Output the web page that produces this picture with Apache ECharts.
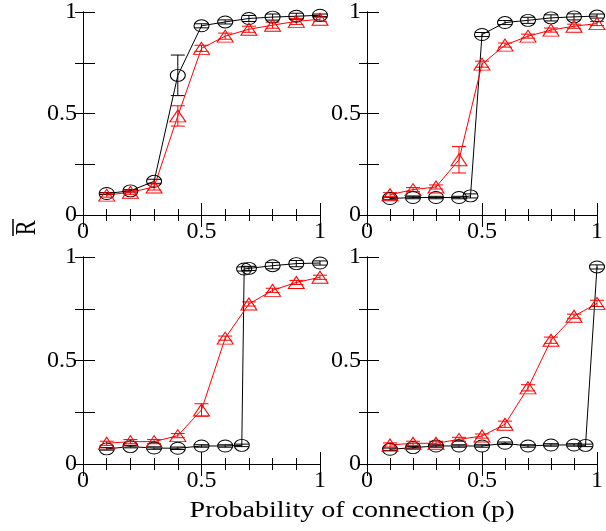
<!DOCTYPE html>
<html><head><meta charset="utf-8">
<script src="https://cdn.jsdelivr.net/npm/echarts@6/dist/echarts.min.js"></script>
<style>html,body{margin:0;padding:0;background:#fff}#c{width:606px;height:531px}</style>
</head><body><div id="c"></div>
<script>
// ---- data ----
const xTickLabels = ['0', '0.5', '1'];
const yTickLabels = ['0', '0.5', '1'];
const xName = 'Probability of connection (p)';
const yName = 'R';

const p1BlackX = [0.1,0.2,0.3,0.4,0.5,0.6,0.7,0.8,0.9,1.0];
const p1BlackY = [0.106,0.119,0.166,0.688,0.932,0.951,0.968,0.975,0.979,0.984];
const p1BlackErr = [0.005,0.006,0.01,0.1,0.01,0.01,0.015,0.015,0.015,0.006];
const p1RedX = [0.1,0.2,0.3,0.4,0.5,0.6,0.7,0.8,0.9,1.0];
const p1RedY = [0.098,0.112,0.138,0.488,0.821,0.881,0.915,0.935,0.954,0.964];
const p1RedErr = [0.01,0.01,0.015,0.05,0.015,0.015,0.015,0.015,0.015,0.01];

const p2BlackX = [0.1,0.2,0.3,0.4,0.45,0.5,0.6,0.7,0.8,0.9,1.0];
const p2BlackY = [0.081,0.086,0.086,0.086,0.094,0.889,0.948,0.959,0.971,0.976,0.98];
const p2BlackErr = [0.006,0.006,0.006,0.006,0.01,0.01,0.01,0.015,0.015,0.015,0.01];
const p2RedX = [0.1,0.2,0.3,0.4,0.5,0.6,0.7,0.8,0.9,1.0];
const p2RedY = [0.10,0.125,0.138,0.272,0.743,0.837,0.881,0.911,0.93,0.943];
const p2RedErr = [0.01,0.01,0.01,0.065,0.015,0.01,0.01,0.01,0.01,0.01];

const p3BlackX = [0.1,0.2,0.3,0.4,0.5,0.6,0.67,0.68,0.7,0.8,0.9,1.0];
const p3BlackY = [0.073,0.084,0.077,0.076,0.087,0.087,0.09,0.942,0.945,0.958,0.968,0.971];
const p3BlackErr = [0.006,0.006,0.006,0.006,0.006,0.006,0.006,0.01,0.01,0.015,0.015,0.01];
const p3RedX = [0.1,0.2,0.3,0.4,0.5,0.6,0.7,0.8,0.9,1.0];
const p3RedY = [0.1,0.108,0.108,0.137,0.261,0.608,0.773,0.839,0.877,0.902];
const p3RedErr = [0.01,0.01,0.01,0.01,0.03,0.01,0.01,0.01,0.01,0.01];

const p4BlackX = [0.1,0.2,0.3,0.4,0.5,0.6,0.7,0.8,0.9,0.95,1.0];
const p4BlackY = [0.071,0.079,0.087,0.087,0.087,0.1,0.087,0.092,0.092,0.09,0.952];
const p4BlackErr = [0.006,0.006,0.006,0.006,0.006,0.006,0.006,0.006,0.006,0.006,0.01];
const p4RedX = [0.1,0.2,0.3,0.4,0.5,0.6,0.7,0.8,0.9,1.0];
const p4RedY = [0.092,0.1,0.1,0.119,0.135,0.192,0.368,0.598,0.714,0.776];
const p4RedErr = [0.01,0.01,0.01,0.01,0.01,0.015,0.015,0.015,0.01,0.015];

const panels = [
  {bx:p1BlackX, by:p1BlackY, be:p1BlackErr, rx:p1RedX, ry:p1RedY, re:p1RedErr},
  {bx:p2BlackX, by:p2BlackY, be:p2BlackErr, rx:p2RedX, ry:p2RedY, re:p2RedErr},
  {bx:p3BlackX, by:p3BlackY, be:p3BlackErr, rx:p3RedX, ry:p3RedY, re:p3RedErr},
  {bx:p4BlackX, by:p4BlackY, be:p4BlackErr, rx:p4RedX, ry:p4RedY, re:p4RedErr}
];

// ---- layout ----
const FONT = 'Liberation Serif';
const grids = [
  {left:83, top:10, width:237, height:205},
  {left:367, top:10, width:236, height:205},
  {left:83, top:257, width:237, height:207},
  {left:367, top:257, width:236, height:207}
];

const chart = echarts.init(document.getElementById('c'), null, {renderer:'canvas'});
const xAxes = [], yAxes = [], series = [];
const lbl = (arr) => (v) => { const s = String(+v.toFixed(2)); return arr.indexOf(s) >= 0 ? s : ''; };
const labelRich = {fontFamily:FONT, fontSize:24, color:'#000'};

grids.forEach((g, i) => {
  const base = {type:'value', min:0, max:1, gridIndex:i, splitLine:{show:false},
    axisLine:{show:true, lineStyle:{color:'#000', width:1}}};
  xAxes.push(Object.assign({}, base, {position:'bottom', interval:0.5,
    axisTick:{show:true, inside:true, length:12, lineStyle:{color:'#000'}},
    minorTick:{show:true, splitNumber:5, length:6, lineStyle:{color:'#000'}},
    axisLabel:Object.assign({show:true, formatter:lbl(xTickLabels), margin:5}, labelRich)}));
  xAxes.push(Object.assign({}, base, {position:'top', interval:0.5,
    axisTick:{show:true, inside:true, length:12, lineStyle:{color:'#000'}},
    minorTick:{show:true, splitNumber:5, length:6, lineStyle:{color:'#000'}},
    axisLabel:{show:false}}));
  yAxes.push(Object.assign({}, base, {position:'left', interval:0.25,
    axisTick:{show:true, inside:true, length:12, lineStyle:{color:'#000'}},
    axisLabel:Object.assign({show:true, formatter:lbl(yTickLabels), margin:6}, labelRich)}));
  yAxes.push(Object.assign({}, base, {position:'right', interval:0.25,
    axisTick:{show:true, inside:true, length:8, lineStyle:{color:'#000'}},
    axisLabel:{show:false}}));

  const p = panels[i];
  const mk = (xs, ys, es, color, symbol, size, capW) => {
    const pts = xs.map((x, k) => [x, ys[k]]);
    const errs = xs.map((x, k) => [x, ys[k], es[k]]);
    series.push({type:'custom', xAxisIndex:2*i, yAxisIndex:2*i, data:errs, silent:true, z:2,
      renderItem:(params, api) => {
        const x = api.value(0), y = api.value(1), e = api.value(2);
        const lo = api.coord([x, y - e]), hi = api.coord([x, y + e]);
        const st = {stroke:color, lineWidth:1};
        return {type:'group', children:[
          {type:'line', shape:{x1:lo[0], y1:lo[1], x2:hi[0], y2:hi[1]}, style:st},
          {type:'line', shape:{x1:lo[0]-capW/2, y1:lo[1], x2:lo[0]+capW/2, y2:lo[1]}, style:st},
          {type:'line', shape:{x1:hi[0]-capW/2, y1:hi[1], x2:hi[0]+capW/2, y2:hi[1]}, style:st}
        ]};
      }});
    series.push({type:'line', xAxisIndex:2*i, yAxisIndex:2*i, data:pts, z:3,
      symbol:symbol, symbolSize:size, showSymbol:true, clip:false,
      lineStyle:{color:color, width:1}, itemStyle:{color:'rgba(0,0,0,0)', borderColor:color, borderWidth:1},
      emphasis:{disabled:true}, animation:false});
  };
  mk(p.bx, p.by, p.be, '#000000', 'circle', [15, 12], 14);
  mk(p.rx, p.ry, p.re, '#ff0000', 'triangle', [16, 12], 14);
});

chart.setOption({
  animation:false,
  backgroundColor:'#fff',
  grid: grids,
  xAxis: xAxes,
  yAxis: yAxes,
  series: series,
  graphic: [
    {type:'text', x:352, y:511, scaleX:1.22, originX:0, originY:0,
      style:{text:xName, font:'23px "Liberation Serif"', fill:'#000', align:'center', verticalAlign:'middle'}},
    {type:'group', x:27, y:228, rotation:Math.PI/2, children:[
      {type:'text', scaleX:0.92, scaleY:1.25,
        style:{text:yName, font:'24px "Liberation Serif"', fill:'#000', align:'center', verticalAlign:'middle'}},
      {type:'line', shape:{x1:-8, y1:-14, x2:9, y2:-14}, style:{stroke:'#000', lineWidth:1.5}}
    ]}
  ]
});
</script></body></html>
